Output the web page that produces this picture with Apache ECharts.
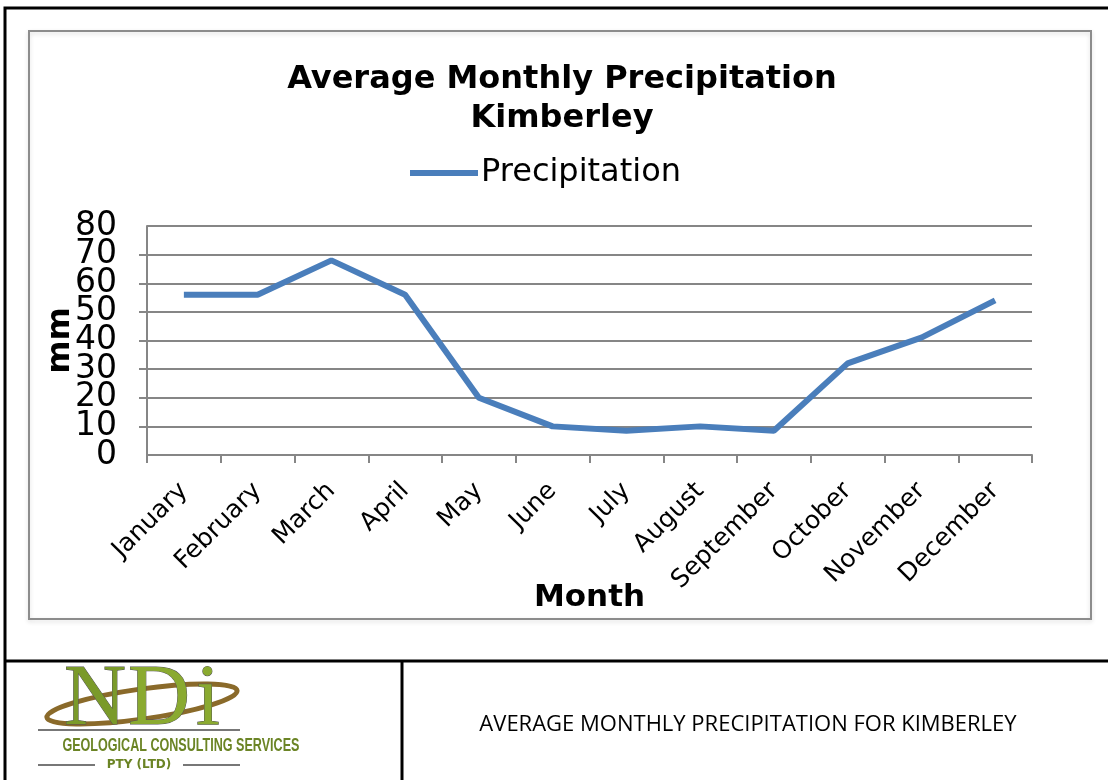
<!DOCTYPE html>
<html>
<head>
<meta charset="utf-8">
<script src="https://cdn.jsdelivr.net/npm/echarts@6/dist/echarts.min.js"></script>
<style>
  html, body { margin: 0; padding: 0; background: #fff; }
  #main { width: 1108px; height: 780px; }
</style>
</head>
<body>
<div id="main"></div>
<script>
var months = ["January", "February", "March", "April", "May", "June",
              "July", "August", "September", "October", "November", "December"];
var precipitation = [56, 56, 68, 56, 20, 10, 8.5, 10, 8.5, 32, 41, 54];
var yTicks = [0, 80, 10];   // min, max, interval
var caption = "AVERAGE MONTHLY PRECIPITATION FOR KIMBERLEY";
var logoLine = "GEOLOGICAL CONSULTING SERVICES";

// squeeze the logo text to its width
function squeeze(text, font, width) {
    var ctx = document.createElement('canvas').getContext('2d');
    ctx.font = font;
    return width / ctx.measureText(text).width;
}

var yLabelStyle = {
    fontFamily: 'DejaVu Sans',
    fontSize: 33,
    lineHeight: 18,
    color: '#000'
};

var myChart = echarts.init(document.getElementById('main'));

var option = {
    backgroundColor: '#fff',
    animation: false,
    title: {
        text: 'Average Monthly Precipitation\nKimberley',
        left: 557,
        textAlign: 'center',
        top: 55,
        textStyle: {
            fontFamily: 'DejaVu Sans',
            fontWeight: 'bold',
            fontSize: 32,
            lineHeight: 39,
            color: '#000'
        }
    },
    legend: {
        data: ['Precipitation'],
        left: 410,
        top: 157,
        padding: 0,
        icon: 'rect',
        itemWidth: 68,
        itemHeight: 6,
        itemGap: 4,
        textStyle: {
            fontFamily: 'DejaVu Sans',
            fontSize: 32,
            color: '#000',
            padding: [0, 0, 0, -2]
        }
    },
    grid: {
        left: 147,
        right: 76,
        top: 226,
        bottom: 325
    },
    xAxis: {
        type: 'category',
        data: months,
        boundaryGap: true,
        name: 'Month',
        nameLocation: 'middle',
        nameGap: 127,
        nameMoveOverlap: false,
        nameTextStyle: {
            fontFamily: 'DejaVu Sans',
            fontWeight: 'bold',
            fontSize: 31,
            color: '#000'
        },
        axisLine: { lineStyle: { color: '#868686', width: 2 } },
        axisTick: { show: true, length: 8, lineStyle: { color: '#868686', width: 2 } },
        axisLabel: {
            rotate: 45,
            margin: 32,
            interval: 0,
            fontFamily: 'DejaVu Sans',
            fontSize: 25,
            color: '#000'
        }
    },
    yAxis: [{
        // main axis: line, ticks, grid lines and inner labels
        type: 'value',
        min: yTicks[0],
        max: yTicks[1],
        interval: yTicks[2],
        name: 'mm',
        nameLocation: 'middle',
        nameRotate: 90,
        nameGap: 70,
        nameMoveOverlap: false,
        nameTextStyle: {
            fontFamily: 'DejaVu Sans',
            fontWeight: 'bold',
            fontSize: 32,
            color: '#000'
        },
        axisLine: { show: true, lineStyle: { color: '#868686', width: 2 } },
        axisTick: { show: true, length: 8, lineStyle: { color: '#868686', width: 2 } },
        splitLine: { lineStyle: { color: '#868686', width: 2 } },
        axisLabel: Object.assign({ margin: 30, showMinLabel: false, showMaxLabel: false }, yLabelStyle)
    }, {
        // second axis on the same side only for the 0 and 80 labels
        type: 'value',
        position: 'left',
        min: yTicks[0],
        max: yTicks[1],
        interval: yTicks[1] - yTicks[0],
        axisLine: { show: false },
        axisTick: { show: false },
        splitLine: { show: false },
        axisLabel: Object.assign({ margin: 30, showMinLabel: true, showMaxLabel: true }, yLabelStyle)
    }],
    series: [{
        name: 'Precipitation',
        type: 'line',
        data: precipitation,
        symbol: 'none',
        lineStyle: { width: 6, color: '#4a7ebb' },
        itemStyle: { color: '#4a7ebb' }
    }],
    graphic: [
        // outer page border
        { type: 'rect', shape: { x: 5, y: 8, width: 1110, height: 780 },
          style: { fill: 'none', stroke: '#000', lineWidth: 3 }, z: 10 },
        // chart frame
        { type: 'rect', shape: { x: 29, y: 31, width: 1062, height: 588 },
          style: { fill: 'none', stroke: '#8c8c8c', lineWidth: 2,
                   shadowColor: 'rgba(0,0,0,0.15)', shadowBlur: 4, shadowOffsetY: 2 }, z: 10 },
        // bottom table
        { type: 'line', shape: { x1: 5, y1: 661, x2: 1108, y2: 661 },
          style: { stroke: '#000', lineWidth: 3 }, z: 10 },
        { type: 'line', shape: { x1: 402, y1: 661, x2: 402, y2: 780 },
          style: { stroke: '#000', lineWidth: 3 }, z: 10 },
        { type: 'text', x: 748, y: 725, z: 10,
          style: { text: caption, fontFamily: 'Open Sans', fontSize: 22,
                   fill: '#000', textAlign: 'center', textVerticalAlign: 'middle' } },
        // logo (approximation with text)
        { type: 'ellipse', shape: { cx: 0, cy: 0, rx: 96, ry: 15 }, x: 142, y: 704,
          rotation: 0.14,
          style: { fill: 'none', stroke: '#8a6a2a', lineWidth: 5 }, z: 9 },
        { type: 'text', x: 64, y: 658, z: 11,
          style: { text: 'N', fontFamily: 'Liberation Serif', fontSize: 86,
                   fill: '#7a9a2a', stroke: '#555', lineWidth: 1 } },
        { type: 'text', x: 128, y: 658, z: 11,
          style: { text: 'D', fontFamily: 'Liberation Serif', fontSize: 86,
                   fill: '#8aaa30', stroke: '#555', lineWidth: 1 } },
        { type: 'text', x: 196, y: 658, z: 11,
          style: { text: 'i', fontFamily: 'Liberation Serif', fontSize: 86,
                   fill: '#8aaa30', stroke: '#555', lineWidth: 1 } },
        { type: 'line', shape: { x1: 38, y1: 730, x2: 240, y2: 730 },
          style: { stroke: '#777', lineWidth: 2 }, z: 10 },
        { type: 'text', x: 139, y: 746, z: 10,
          scaleX: squeeze(logoLine, 'bold 18px "Liberation Sans"', 237), originX: 139,
          style: { text: logoLine, fontFamily: 'Liberation Sans',
                   fontWeight: 'bold', fontSize: 18, fill: '#6b8425',
                   textAlign: 'center', textVerticalAlign: 'middle' } },
        { type: 'text', x: 139, y: 765, z: 10,
          style: { text: 'PTY (LTD)', fontFamily: 'DejaVu Sans', fontWeight: 'bold', fontSize: 12,
                   fill: '#6b8425', textAlign: 'center', textVerticalAlign: 'middle' } },
        { type: 'line', shape: { x1: 38, y1: 765, x2: 95, y2: 765 },
          style: { stroke: '#777', lineWidth: 2 }, z: 10 },
        { type: 'line', shape: { x1: 183, y1: 765, x2: 240, y2: 765 },
          style: { stroke: '#777', lineWidth: 2 }, z: 10 }
    ]
};

myChart.setOption(option);
</script>
</body>
</html>
